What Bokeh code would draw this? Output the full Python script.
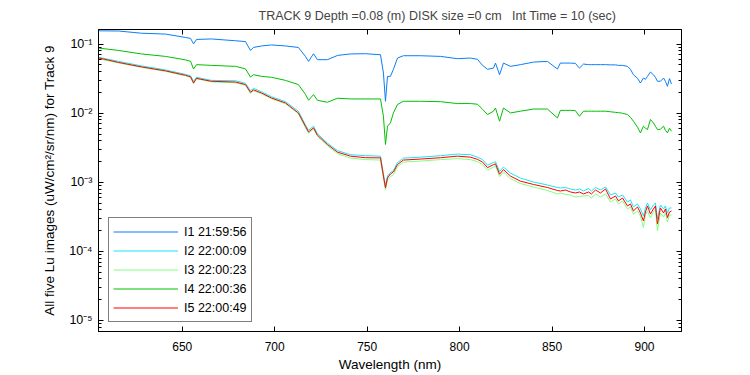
from bokeh.plotting import figure
from bokeh.models import (Range1d, FixedTicker, LogAxis, LinearAxis, Legend,
                          LegendItem, CustomJSTickFormatter)
from bokeh.embed import file_html
from bokeh.resources import INLINE

# ---------------- data ----------------
wavelength = [
    605.0, 615.5, 627.9, 640.9, 651.8, 654.5, 656.1, 657.7, 665.8, 678.8,
    684.2, 686.9, 688.5, 692.9, 698.3, 705.8, 712.8, 716.6, 718.3, 721.0,
    723.1, 728.5, 734.0, 741.0, 749.1, 757.2, 758.8, 759.9, 761.0, 762.6,
    764.2, 766.4, 769.6, 778.8, 789.7, 798.8, 805.9, 809.7, 812.4, 815.1,
    818.3, 819.4, 821.6, 823.7, 827.5, 832.9, 840.0, 847.5, 852.9, 854.5,
    857.3, 860.0, 862.6, 864.8, 867.0, 869.7, 871.3, 873.5, 876.2, 878.9,
    881.6, 884.3, 885.9, 888.1, 890.8, 892.4, 894.0, 896.2, 897.8, 899.4,
    900.5, 901.6, 903.2, 904.8, 905.9, 907.0, 908.6, 910.3, 911.3, 912.4,
    913.5, 914.6]

lu_i1 = [
    0.156, 0.155, 0.144, 0.140, 0.125, 0.121, 0.101, 0.117, 0.119, 0.112,
    0.109, 0.0811, 0.0896, 0.0942, 0.0974, 0.0942, 0.0896, 0.0665, 0.0563, 0.0727,
    0.0596, 0.0596, 0.0687, 0.0722, 0.0727, 0.0703, 0.0382, 0.0149, 0.0342, 0.0342,
    0.0432, 0.0630, 0.0680, 0.0680, 0.0665, 0.0616, 0.0630, 0.0602, 0.0493, 0.0432,
    0.0450, 0.0532, 0.0361, 0.0532, 0.0477, 0.0505, 0.0550, 0.0563, 0.0436, 0.0532,
    0.0532, 0.0532, 0.0527, 0.0450, 0.0515, 0.0505, 0.0505, 0.0505, 0.0505, 0.0505,
    0.0501, 0.0501, 0.0493, 0.0493, 0.0477, 0.0432, 0.0361, 0.0320, 0.0274, 0.0323,
    0.0310, 0.0342, 0.0395, 0.0361, 0.0331, 0.0290, 0.0290, 0.0323, 0.0290, 0.0245,
    0.0317, 0.0265]

lu_i2 = [
    0.0643, 0.0563, 0.0485, 0.0424, 0.0365, 0.0348, 0.0290, 0.0331, 0.0299, 0.0295,
    0.0271, 0.0212, 0.0229, 0.0205, 0.0173, 0.0147, 0.0107, 0.00682, 0.00568, 0.00649,
    0.00505, 0.00369, 0.00287, 0.00251, 0.00243, 0.00239, 0.00132, 0.000884, 0.00123, 0.00138,
    0.00148, 0.00193, 0.00224, 0.00231, 0.00243, 0.00256, 0.00251, 0.00231, 0.00213, 0.00177,
    0.00193, 0.00199, 0.00143, 0.00166, 0.00136, 0.00115, 0.00101, 0.000914, 0.000841, 0.000827,
    0.000841, 0.000800, 0.000774, 0.000800, 0.000749, 0.000813, 0.000749, 0.000841, 0.000774, 0.000855,
    0.000655, 0.000701, 0.000613, 0.000655, 0.000519, 0.000555, 0.000440, 0.000486, 0.000411, 0.000326,
    0.000425, 0.000502, 0.000398, 0.000470, 0.000502, 0.000295, 0.000470, 0.000411, 0.000455, 0.000360,
    0.000425, 0.000425]

lu_i3 = [
    0.0612, 0.0536, 0.0461, 0.0404, 0.0348, 0.0331, 0.0267, 0.0315, 0.0285, 0.0276,
    0.0254, 0.0194, 0.0212, 0.0191, 0.0162, 0.0137, 0.00984, 0.00617, 0.00514, 0.00587,
    0.00465, 0.00340, 0.00260, 0.00224, 0.00213, 0.00210, 0.00115, 0.000774, 0.00108, 0.00121,
    0.00129, 0.00169, 0.00196, 0.00203, 0.00213, 0.00220, 0.00213, 0.00199, 0.00180, 0.00150,
    0.00166, 0.00172, 0.00121, 0.00141, 0.00113, 0.000961, 0.000855, 0.000762, 0.000678, 0.000701,
    0.000667, 0.000655, 0.000613, 0.000624, 0.000634, 0.000645, 0.000593, 0.000678, 0.000613, 0.000678,
    0.000519, 0.000574, 0.000486, 0.000537, 0.000411, 0.000440, 0.000348, 0.000385, 0.000326, 0.000221,
    0.000337, 0.000385, 0.000305, 0.000372, 0.000398, 0.000198, 0.000360, 0.000315, 0.000360, 0.000267,
    0.000337, 0.000337]

lu_i4 = [
    0.0876, 0.0811, 0.0722, 0.0665, 0.0592, 0.0563, 0.0436, 0.0505, 0.0493, 0.0477,
    0.0439, 0.0334, 0.0361, 0.0342, 0.0331, 0.0299, 0.0260, 0.0188, 0.0154, 0.0186,
    0.0154, 0.0144, 0.0165, 0.0161, 0.0161, 0.0161, 0.00905, 0.00353, 0.00649, 0.00724,
    0.0101, 0.0134, 0.0149, 0.0149, 0.0147, 0.0138, 0.0138, 0.0135, 0.0114, 0.00957,
    0.0107, 0.0119, 0.00766, 0.0119, 0.0101, 0.0107, 0.0115, 0.0115, 0.00855, 0.0110,
    0.0110, 0.0110, 0.0109, 0.00905, 0.0107, 0.0107, 0.0107, 0.0107, 0.0107, 0.0107,
    0.0105, 0.0103, 0.0102, 0.0100, 0.00957, 0.00875, 0.00766, 0.00628, 0.00519, 0.00649,
    0.00607, 0.00580, 0.00811, 0.00724, 0.00649, 0.00580, 0.00587, 0.00649, 0.00568, 0.00519,
    0.00607, 0.00549]

lu_i5 = [
    0.0630, 0.0544, 0.0469, 0.0411, 0.0354, 0.0336, 0.0274, 0.0320, 0.0290, 0.0283,
    0.0260, 0.0201, 0.0218, 0.0196, 0.0166, 0.0141, 0.0101, 0.00649, 0.00536, 0.00614,
    0.00481, 0.00353, 0.00273, 0.00239, 0.00227, 0.00226, 0.00123, 0.000835, 0.00116, 0.00132,
    0.00141, 0.00181, 0.00210, 0.00217, 0.00227, 0.00239, 0.00231, 0.00215, 0.00196, 0.00163,
    0.00180, 0.00185, 0.00131, 0.00153, 0.00123, 0.00104, 0.000930, 0.000841, 0.000762, 0.000749,
    0.000774, 0.000724, 0.000701, 0.000724, 0.000678, 0.000724, 0.000678, 0.000774, 0.000701, 0.000800,
    0.000574, 0.000634, 0.000537, 0.000593, 0.000455, 0.000486, 0.000385, 0.000440, 0.000360, 0.000276,
    0.000372, 0.000455, 0.000348, 0.000411, 0.000455, 0.000250, 0.000425, 0.000360, 0.000411, 0.000308,
    0.000372, 0.000385]

series_labels = ["I1 21:59:56", "I2 22:00:09", "I3 22:00:23", "I4 22:00:36", "I5 22:00:49"]
series_colors = ["#0a7ef5", "#19e6f5", "#80ff80", "#00c000", "#ff0000"]

x_ticks = [650, 700, 750, 800, 850, 900]
y_ticks = [1e-5, 1e-4, 1e-3, 1e-2, 1e-1]
y_minor = [m * 10.0 ** d for d in range(-6, 0) for m in range(2, 10)]

title_text = "TRACK 9 Depth =0.08 (m) DISK size =0 cm \u00a0 Int Time = 10 (sec)"
x_label = "Wavelength (nm)"
y_label = "All five Lu images (uW/cm\u00b2/sr/nm) for Track 9"

FONT = "Liberation Sans"

# ---------------- figure ----------------
p = figure(width=750, height=375, y_axis_type="log",
           x_range=Range1d(604.7, 920.0), y_range=Range1d(6.92e-6, 0.163),
           output_backend="svg", toolbar_location=None,
           min_border_left=98, min_border_right=69,
           min_border_top=28, min_border_bottom=44)

p.background_fill_color = "white"
p.border_fill_color = "white"
p.outline_line_color = "black"
p.grid.visible = False

p.title.text = title_text
p.title.align = "left"
p.title.offset = 160
p.title.text_font = FONT
p.title.text_font_size = "12.5px"
p.title.text_font_style = "normal"
p.title.standoff = 13

sup = """
const e = Math.round(Math.log10(tick));
const m = {'-':'\\u207b','0':'\\u2070','1':'\\u00b9','2':'\\u00b2','3':'\\u00b3',
           '4':'\\u2074','5':'\\u2075','6':'\\u2076','7':'\\u2077','8':'\\u2078','9':'\\u2079'};
return '10' + String(e).split('').map(c => m[c]).join('');
"""
blank = CustomJSTickFormatter(code="return '';")

xt = FixedTicker(ticks=x_ticks, minor_ticks=[])
yt = FixedTicker(ticks=y_ticks, minor_ticks=y_minor)

def style(ax):
    ax.axis_line_color = "black"
    ax.major_tick_line_color = "black"
    ax.minor_tick_line_color = "black"
    ax.major_tick_in = 5
    ax.major_tick_out = 0
    ax.minor_tick_in = 3
    ax.minor_tick_out = 0
    ax.major_label_text_font = FONT
    ax.major_label_text_font_size = "12px"
    ax.major_label_text_color = "black"
    ax.axis_label_text_font = FONT
    ax.axis_label_text_font_size = "13.5px"
    ax.axis_label_text_font_style = "normal"
    ax.axis_label_text_color = "black"

xa = p.xaxis[0]
style(xa)
xa.ticker = xt
xa.axis_label = x_label
xa.major_label_standoff = 10
xa.axis_label_standoff = 3

ya = p.yaxis[0]
style(ya)
ya.ticker = yt
ya.formatter = CustomJSTickFormatter(code=sup)
ya.major_label_text_font_size = "12.5px"
ya.axis_label = y_label
ya.major_label_standoff = 6
ya.axis_label_standoff = 9

top = LinearAxis(ticker=xt, formatter=blank)
style(top)
top.major_label_standoff = 0
top.major_label_text_font_size = "1px"
p.add_layout(top, "above")

right = LogAxis(ticker=yt, formatter=blank)
style(right)
right.major_label_standoff = 0
right.major_label_text_font_size = "1px"
p.add_layout(right, "right")

series = [lu_i1, lu_i2, lu_i3, lu_i4, lu_i5]
items = []
for vals, lab, col in zip(series, series_labels, series_colors):
    r = p.line(wavelength, vals, line_color=col, line_width=1)
    items.append(LegendItem(label=lab, renderers=[r]))

legend = Legend(items=items, location=(10, 9))
legend.border_line_color = "black"
legend.border_line_width = 1
legend.background_fill_color = "white"
legend.background_fill_alpha = 1
legend.label_text_font = FONT
legend.label_text_font_size = "12.5px"
legend.label_text_color = "black"
legend.glyph_width = 65
legend.glyph_height = 19
legend.label_height = 19
legend.spacing = 0
legend.padding = 4
legend.margin = 0
legend.label_standoff = 6
p.add_layout(legend)

open("out.html", "w").write(file_html(p, INLINE))
